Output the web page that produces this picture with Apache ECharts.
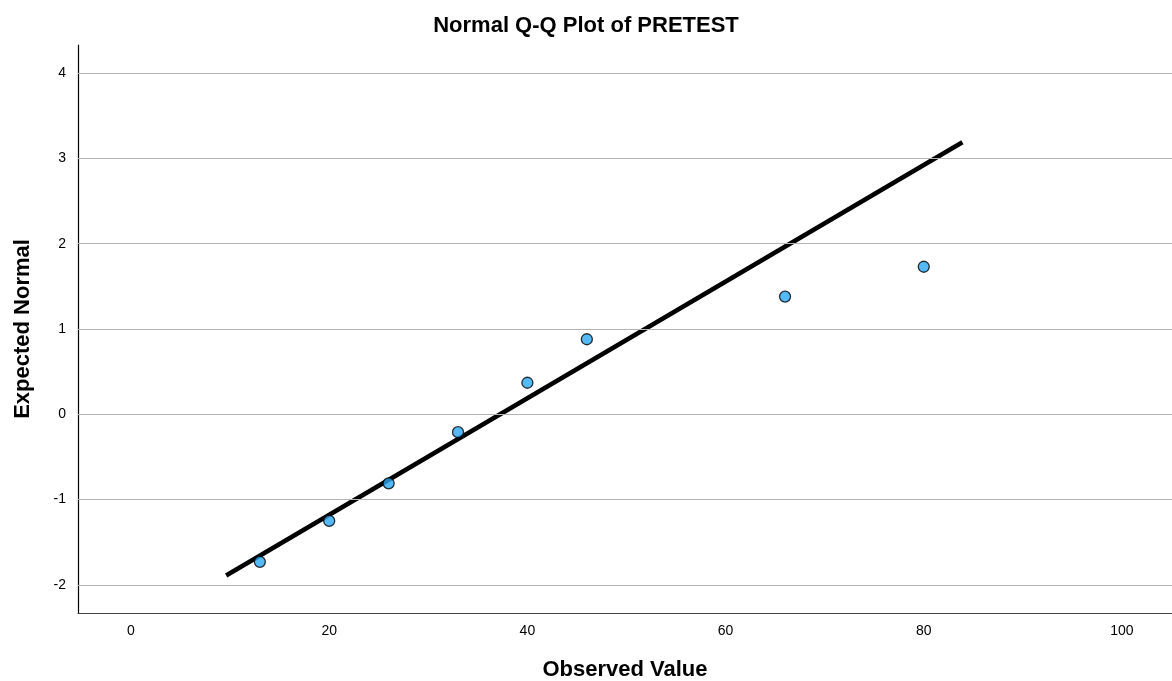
<!DOCTYPE html>
<html>
<head>
<meta charset="utf-8">
<script src="https://cdn.jsdelivr.net/npm/echarts@6/dist/echarts.min.js"></script>
<style>
  html, body { margin: 0; padding: 0; background: #fff; }
  #chart { width: 1172px; height: 681px; }
</style>
</head>
<body>
<div id="chart"></div>
<script>
// observed values and their expected normal scores
const observed = [13, 20, 26, 33, 40, 46, 66, 80];
const expected = [-1.73, -1.25, -0.81, -0.21, 0.37, 0.88, 1.38, 1.73];
// reference line end points
const lineX = [9.6, 83.9];
const lineY = [-1.89, 3.19];
const xTicks = [0, 20, 40, 60, 80, 100];
const yTicks = [-2, -1, 0, 1, 2, 3, 4];

const chart = echarts.init(document.getElementById('chart'));

const font = 'Liberation Sans, Arial, sans-serif';

const option = {
    backgroundColor: '#fff',
    animation: false,
    title: {
        text: 'Normal Q-Q Plot of PRETEST',
        left: 'center',
        top: 10,
        textStyle: { fontFamily: font, fontSize: 22, fontWeight: 'bold', color: '#000' }
    },
    grid: { left: 78, right: 0, top: 45, bottom: 68, outerBoundsMode: 'none' },
    xAxis: {
        type: 'value',
        min: -5.35,
        max: 105.05,
        name: 'Observed Value',
        nameLocation: 'middle',
        nameGap: 46,
        nameTextStyle: { fontFamily: font, fontSize: 22, fontWeight: 'bold', color: '#000' },
        axisLine: { show: true, onZero: false, lineStyle: { color: '#444', width: 1.2 } },
        axisTick: { show: false },
        splitLine: { show: false },
        axisLabel: {
            customValues: xTicks,
            fontFamily: font, fontSize: 14, color: '#000', margin: 11
        }
    },
    yAxis: {
        type: 'value',
        min: -2.33,
        max: 4.33,
        name: 'Expected Normal',
        nameLocation: 'middle',
        nameGap: 44,
        nameTextStyle: { fontFamily: font, fontSize: 22, fontWeight: 'bold', color: '#000' },
        axisLine: { show: true, onZero: false, lineStyle: { color: '#000', width: 1.2 } },
        axisTick: { show: false },
        splitLine: { show: false },
        axisLabel: {
            customValues: yTicks,
            fontFamily: font, fontSize: 14, color: '#000', margin: 12
        }
    },
    series: [
        {
            type: 'line',
            data: lineX.map((x, i) => [x, lineY[i]]),
            showSymbol: false,
            symbol: 'none',
            lineStyle: { color: '#000', width: 4.5 },
            z: 3,
            markLine: {
                silent: true,
                symbol: 'none',
                label: { show: false },
                lineStyle: { color: '#b4b4b4', width: 1.2, type: 'solid' },
                data: yTicks.map(v => ({ yAxis: v }))
            }
        },
        {
            type: 'scatter',
            data: observed.map((x, i) => [x, expected[i]]),
            symbolSize: 11,
            itemStyle: { color: '#2aa7f2', borderColor: '#000', borderWidth: 1.3 },
            z: 4
        }
    ]
};

chart.setOption(option);
</script>
</body>
</html>
